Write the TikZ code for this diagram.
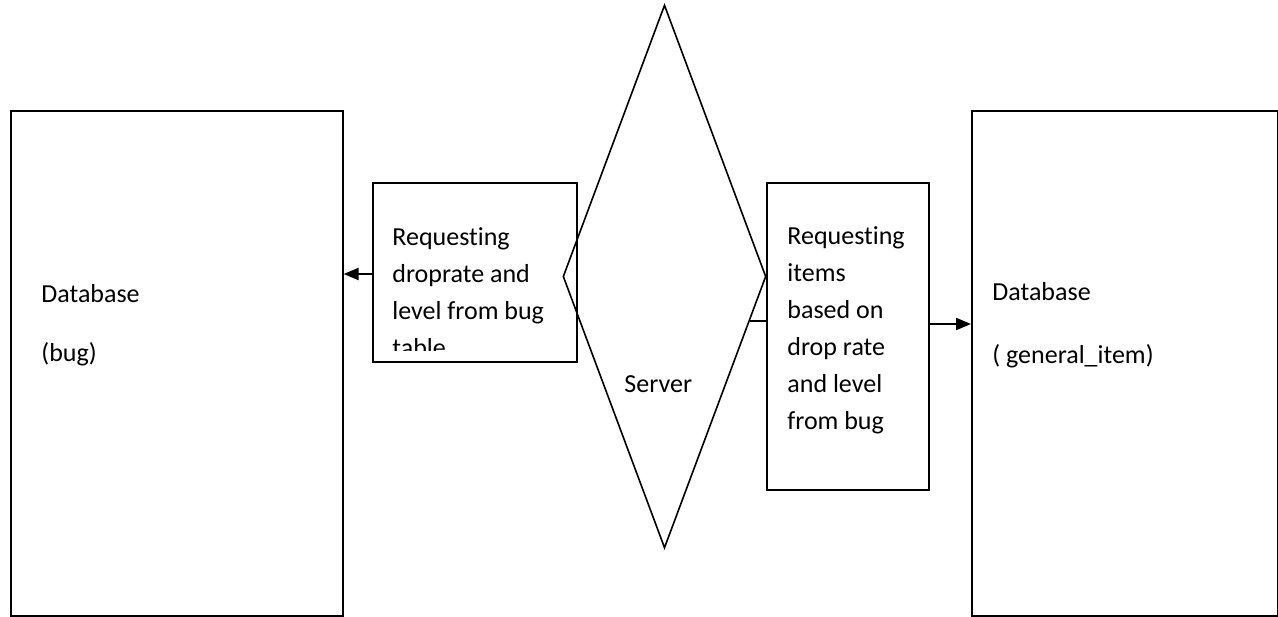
\documentclass[tikz,border=0pt]{standalone}
\usepackage{fontspec}
\setmainfont{Carlito}[Ligatures=NoCommon]
\usetikzlibrary{shapes.geometric,arrows.meta}
\begin{document}
\begin{tikzpicture}[x=0.5pt,y=-0.5pt,
  box/.style={draw=black,line width=0.8pt,rectangle,inner sep=0pt,anchor=north west},
  lbl/.style={inner sep=0pt,anchor=base west,align=left,font=\fontsize{13}{18.5}\selectfont},
  arr/.style={line width=1.1pt,-{Triangle[length=7.5pt,width=6pt]}},
  con/.style={line width=0.9pt}]
\useasboundingbox (0,0) rectangle (1278,616);
% boxes
\node[box,minimum width=166pt,minimum height=252.5pt] (lbox) at (10,110) {};
\node[box,minimum width=153pt,minimum height=252.5pt] (rbox) at (971,110) {};
\node[box,minimum width=102pt,minimum height=89.5pt] (lmid) at (372,182) {};
\node[box,minimum width=81pt,minimum height=153.5pt] (rmid) at (766,182) {};
\node[draw=black,line width=0.8pt,diamond,inner sep=0pt,minimum width=101.5pt,minimum height=271.5pt] (srv) at (664.5,276.5) {};
% texts
\node[lbl] (t1) at (41,302) {Database};
\node[lbl] (t2) at (41,361) {(bug)};
\node[lbl] (t3) at (992,300) {Database};
\node[lbl] (t4) at (992,363) {( general\_item)};
\node[lbl] (t5) at (624,392) {Server};
\begin{scope}
\clip (372,182) rectangle (576,350);
\node[lbl] (t6) at (392,356) {Requesting\\droprate and\\level from bug\\table};
\end{scope}
\node[lbl] (t7) at (787,429) {Requesting\\items\\based on\\drop rate\\and level\\from bug};
% connectors
\coordinate (a1) at (0,274);
\coordinate (a2) at (0,324);
\coordinate (s1) at (749.6,321);
\draw[arr] (lmid.west |- a1) -- (lbox.east |- a1);
\draw[arr] (rmid.east |- a2) -- (rbox.west |- a2);
\draw[con] (s1) -- (rmid.west |- s1);
\end{tikzpicture}
\end{document}
